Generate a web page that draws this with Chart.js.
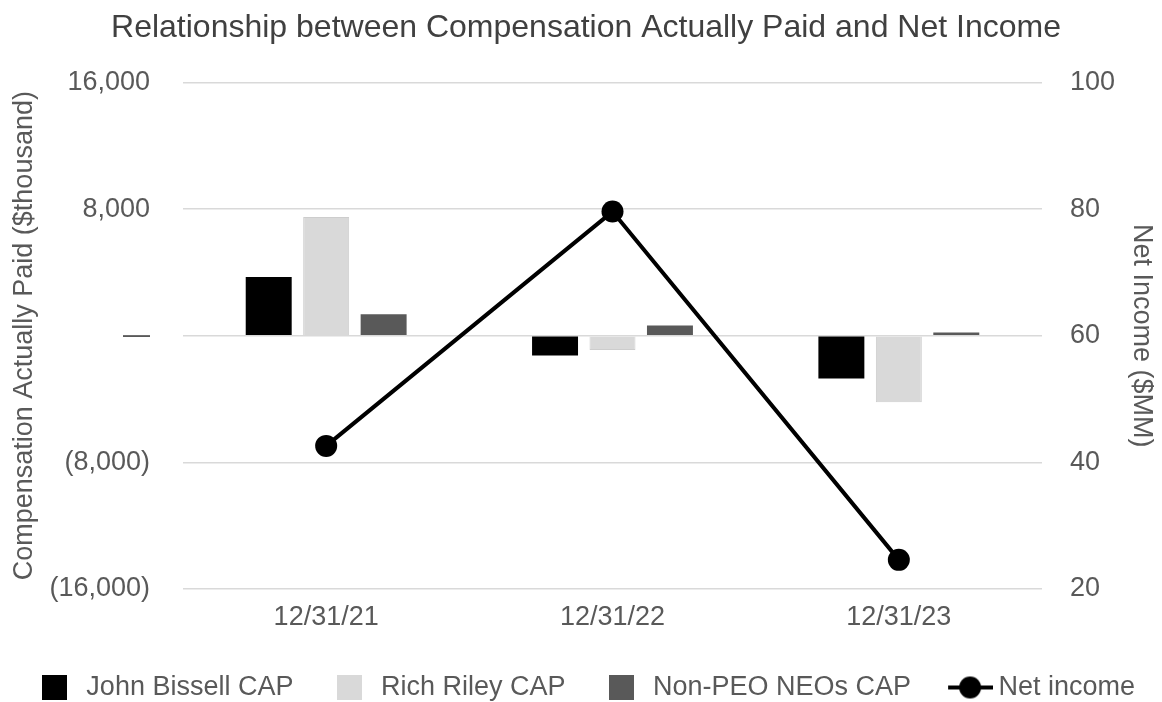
<!DOCTYPE html>
<html>
<head>
<meta charset="utf-8">
<script src="https://cdn.jsdelivr.net/npm/chart.js@4.4.1/dist/chart.umd.min.js"></script>
<style>
  body { margin: 0; background: #fff; }
</style>
</head>
<body>
<canvas id="chart" width="1162" height="702"></canvas>
<script>
// Data
const categories = ['12/31/21', '12/31/22', '12/31/23'];
const johnBissellCap = [3700, -1250, -2700];
const richRileyCap = [7500, -900, -4200];
const nonPeoCap = [1350, 650, 200];
const netIncome = [42.6, 79.6, 24.6];

const FONT = "'Liberation Sans', Arial, sans-serif";
const TEXT = '#595959';

// legend swatches drawn as small images so boxes and the line marker can differ
function squareSwatch(fill) {
  const c = document.createElement('canvas');
  c.width = 25;
  c.height = 25;
  const g = c.getContext('2d');
  g.fillStyle = fill;
  g.fillRect(0, 0, 25, 25);
  return c;
}

function lineSwatch() {
  const c = document.createElement('canvas');
  c.width = 52;
  c.height = 26;
  const g = c.getContext('2d');
  g.strokeStyle = '#000';
  g.lineWidth = 4;
  g.beginPath();
  g.moveTo(7, 13);
  g.lineTo(52, 13);
  g.stroke();
  g.fillStyle = '#000';
  g.beginPath();
  g.arc(29, 13, 11, 0, Math.PI * 2);
  g.fill();
  return c;
}

function fmtThousands(v) {
  if (v === 0) return '—';
  const s = Math.abs(v).toLocaleString('en-US');
  return v < 0 ? '(' + s + ')' : s;
}

const ctx = document.getElementById('chart').getContext('2d');
new Chart(ctx, {
  data: {
    labels: categories,
    datasets: [
      {
        type: 'bar',
        label: 'John Bissell CAP',
        data: johnBissellCap,
        backgroundColor: '#000000',
        borderWidth: 0,
        yAxisID: 'y'
      },
      {
        type: 'bar',
        label: 'Rich Riley CAP',
        data: richRileyCap,
        backgroundColor: '#d9d9d9',
        borderColor: '#cdcdcd',
        borderWidth: 1,
        yAxisID: 'y'
      },
      {
        type: 'bar',
        label: 'Non-PEO NEOs CAP',
        data: nonPeoCap,
        backgroundColor: '#595959',
        borderWidth: 0,
        yAxisID: 'y'
      },
      {
        type: 'line',
        label: 'Net income',
        data: netIncome,
        borderColor: '#000000',
        borderWidth: 4,
        pointRadius: 11,
        pointHoverRadius: 11,
        pointBackgroundColor: '#000000',
        pointBorderWidth: 0,
        tension: 0,
        yAxisID: 'y1'
      }
    ]
  },
  options: {
    responsive: false,
    devicePixelRatio: 1,
    animation: false,
    categoryPercentage: 0.602,
    barPercentage: 0.8,
    // slight negative side padding gives the legend row room to stay on one line
    layout: {
      padding: { left: -5, right: -15, top: 0, bottom: -9 }
    },
    plugins: {
      title: {
        display: true,
        text: 'Relationship between Compensation Actually Paid and Net Income',
        color: '#404040',
        font: { family: FONT, size: 32, weight: 'normal' },
        padding: { top: 9, bottom: 35 }
      },
      legend: {
        position: 'bottom',
        labels: {
          color: TEXT,
          font: { family: FONT, size: 27 },
          usePointStyle: true,
          pointStyleWidth: 36,
          boxHeight: 25,
          padding: 38,
          generateLabels: function (chart) {
            const items = Chart.defaults.plugins.legend.labels.generateLabels(chart);
            items.sort((a, b) => a.datasetIndex - b.datasetIndex);
            items.forEach(item => {
              const ds = chart.data.datasets[item.datasetIndex];
              item.pointStyle = ds.type === 'line' ? lineSwatch() : squareSwatch(ds.backgroundColor);
            });
            return items;
          }
        }
      },
      tooltip: { enabled: false }
    },
    scales: {
      x: {
        afterFit: function (scale) { scale.height = 47; },
        grid: { display: false },
        border: { display: false },
        ticks: {
          color: TEXT,
          font: { family: FONT, size: 27 },
          padding: 4
        }
      },
      y: {
        position: 'left',
        min: -16000,
        max: 16000,
        afterFit: function (scale) { scale.width = 188; },
        ticks: {
          stepSize: 8000,
          color: TEXT,
          font: { family: FONT, size: 27 },
          padding: 33,
          callback: function (value) { return fmtThousands(value); }
        },
        grid: { color: '#d9d9d9', lineWidth: 1.5, drawTicks: false },
        border: { display: false },
        title: {
          display: true,
          text: 'Compensation Actually Paid ($thousand)',
          color: TEXT,
          font: { family: FONT, size: 27 },
          padding: { top: 13, bottom: 4 }
        }
      },
      y1: {
        position: 'right',
        min: 20,
        max: 100,
        afterFit: function (scale) { scale.width = 135; },
        ticks: {
          stepSize: 20,
          color: TEXT,
          font: { family: FONT, size: 27 },
          padding: 28
        },
        grid: { drawOnChartArea: false, drawTicks: false },
        border: { display: false },
        title: {
          display: true,
          text: 'Net Income ($MM)',
          color: TEXT,
          font: { family: FONT, size: 27 },
          padding: { top: 19, bottom: 4 }
        }
      }
    }
  }
});
</script>
</body>
</html>
